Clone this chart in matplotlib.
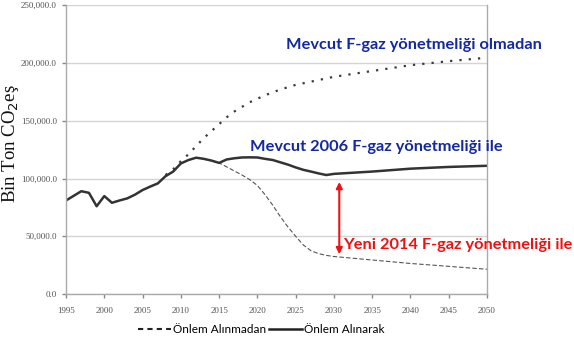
import matplotlib
matplotlib.use("Agg")
import matplotlib.pyplot as plt
from matplotlib.lines import Line2D

# historical emissions + "with measures" projection (thousand t CO2eq)
years_hist = [1995, 1996, 1997, 1998, 1999, 2000, 2001, 2002, 2003, 2004, 2005,
              2006, 2007, 2008, 2009, 2010, 2011, 2012, 2013, 2014, 2015, 2016,
              2017, 2018, 2019, 2020, 2021, 2022, 2023, 2024, 2025, 2026, 2027,
              2028, 2029, 2030, 2035, 2040, 2045, 2050]
with_measures = [81000, 85000, 89000, 87600, 76000, 84800, 79000, 81000, 82800,
                 86000, 90000, 93000, 95800, 102000, 106000, 113000, 116000,
                 118000, 117000, 115500, 113500, 116500, 117500, 118200, 118300,
                 118200, 117000, 116000, 114000, 112000, 109600, 107500, 106000,
                 104400, 103000, 104000, 106000, 108500, 110000, 111000]

# without the existing F-gas regulation
years_no_reg = [2008, 2009, 2010, 2011, 2012, 2013, 2014, 2015, 2016, 2017, 2018,
                2019, 2020, 2021, 2022, 2023, 2024, 2025, 2030, 2035, 2040, 2045, 2050]
no_regulation = [103000, 108000, 115000, 121000, 128000, 135000, 141000, 147000,
                 153000, 158000, 162000, 166000, 169000, 172000, 174500, 177000,
                 179000, 181000, 188000, 193000, 198000, 201500, 204500]

# new 2014 F-gas regulation
years_new = [2014, 2015, 2016, 2017, 2018, 2019, 2020, 2021, 2022, 2023, 2024,
             2025, 2026, 2027, 2028, 2029, 2030, 2035, 2040, 2045, 2050]
new_regulation = [115500, 113500, 110000, 106500, 103000, 99000, 94000, 86000,
                  77000, 67000, 58000, 50000, 42500, 37500, 35000, 33500, 32500,
                  29500, 26500, 24000, 21500]

y_ticks = [0, 50000, 100000, 150000, 200000, 250000]
x_ticks = list(range(1995, 2051, 5))

fig = plt.figure(figsize=(5.74, 3.40), dpi=100)
ax = fig.add_axes([0.115, 0.135, 0.7335, 0.85])

ax.plot(years_no_reg, no_regulation, color="#3a3a3a", lw=1.6,
        linestyle=(0, (1, 3.2)))
ax.plot(years_new, new_regulation, color="#555555", lw=0.8,
        linestyle=(0, (4, 2)))
ax.plot(years_hist, with_measures, color="#333333", lw=1.8)

ax.set_xlim(1995, 2050)
ax.set_ylim(0, 250000)
ax.set_xticks(x_ticks)
ax.set_yticks(y_ticks)
ax.set_yticklabels([f"{v:,.1f}" for v in y_ticks])
ax.yaxis.grid(True, color="#d4d4d4", lw=1.0)
ax.set_axisbelow(True)
ax.tick_params(axis="both", labelsize=6.5, colors="#888888",
               labelcolor="#555555", length=3, width=1)
for lab in ax.get_xticklabels() + ax.get_yticklabels():
    lab.set_family("Liberation Serif")
ax.tick_params(axis="x", pad=6)
for side in ["left", "bottom", "right"]:
    ax.spines[side].set_color("#aaaaaa")
    ax.spines[side].set_linewidth(1.0)
ax.spines["top"].set_visible(False)

ax.set_ylabel("Bin Ton CO$_2$eş", fontsize=13.5, family="Liberation Serif",
              color="#111111")
ax.yaxis.set_label_coords(-0.107, 0.519)

label_font = dict(family="Lato", weight="bold", fontsize=11.8)
ax.text(2023.7, 215500, "Mevcut F-gaz yönetmeliği olmadan", color="#1428a0",
        va="center", ha="left", clip_on=False, **label_font)
ax.text(2019.0, 127500, "Mevcut 2006 F-gaz yönetmeliği ile", color="#1428a0",
        va="center", ha="left", clip_on=False, **label_font)
ax.text(2031.2, 42500, "Yeni 2014 F-gaz yönetmeliği ile", color="#ee1111",
        va="center", ha="left", clip_on=False, **label_font)

ax.annotate("", xy=(2030.7, 34500), xytext=(2030.7, 97000),
            arrowprops=dict(arrowstyle="<|-|>", color="#ee1111", lw=1.5,
                            mutation_scale=9, shrinkA=0, shrinkB=0))

handles = [Line2D([], [], color="#222222", lw=1.5, linestyle=(0, (2.5, 2))),
           Line2D([], [], color="#222222", lw=1.8)]
fig.legend(handles, ["Önlem Alınmadan", "Önlem Alınarak"], loc="center",
           bbox_to_anchor=(0.455, 0.03), ncol=2, frameon=False,
           prop=dict(family="Lato", size=8.5),
           handlelength=2.8, handletextpad=0.2, columnspacing=0.2)

fig.savefig("out.png", dpi=100)
